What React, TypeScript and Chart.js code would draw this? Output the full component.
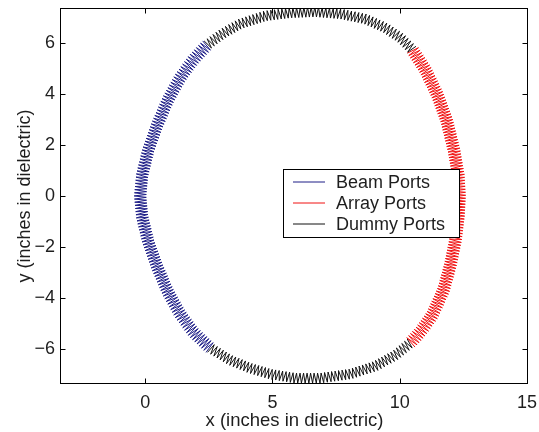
import { useEffect, useRef } from "react";
import { Chart, registerables } from "chart.js";

Chart.register(...registerables);

// Lens outline anchor points (inches in dielectric)
const beamX = [2.43, 1.88, 1.37, 0.89, 0.47, 0.12, -0.12, -0.2, -0.12, 0.12, 0.47, 0.89, 1.37, 1.9, 2.55];
const beamY = [5.92, 5.33, 4.63, 3.76, 2.78, 1.8, 0.82, 0, -0.82, -1.8, -2.78, -3.76, -4.63, -5.35, -5.96];

const arrayX = [10.42, 10.81, 11.28, 11.72, 11.99, 12.19, 12.31, 12.35, 12.3, 12.13, 11.84, 11.48, 11.01, 10.5];
const arrayY = [-5.76, -5.33, -4.67, -3.69, -2.71, -1.73, -0.75, 0, 0.82, 1.8, 2.98, 3.96, 4.94, 5.73];

// dummy ports: top arc, gap (null), bottom arc
const dummyX = [10.5, 10.03, 9.44, 8.65, 7.67, 6.68, 5.7, 4.71, 3.73, 3.02, 2.43, null, 2.55, 3.33, 4.12, 4.9, 5.89, 6.88, 8.05, 9.04, 9.83, 10.42];
const dummyY = [5.73, 6.2, 6.59, 6.94, 7.14, 7.22, 7.18, 7.06, 6.75, 6.35, 5.92, null, -5.96, -6.43, -6.75, -6.98, -7.14, -7.14, -6.98, -6.67, -6.24, -5.76];

const seriesLabels = ["Beam Ports", "Array Ports", "Dummy Ports"];
const xTicks = [0, 5, 10, 15];
const yTicks = [-6, -4, -2, 0, 2, 4, 6];

const FONT = "'Liberation Sans', Arial, Helvetica, sans-serif";
const TEXT = "#1e1e1e";

const toPoints = (xs: (number | null)[], ys: (number | null)[]) =>
  xs.map((x, i) => ({ x: x === null ? NaN : x, y: ys[i] === null ? NaN : (ys[i] as number) }));

const fmt = (v: number) => (v < 0 ? "\u2212" + Math.abs(v) : String(v));

const zigzagPlugin = {
  id: "zigzag",
  afterDatasetsDraw(chart: any) {
    const { ctx, chartArea } = chart;
    ctx.save();
    ctx.beginPath();
    ctx.rect(chartArea.left, chartArea.top, chartArea.right - chartArea.left, chartArea.bottom - chartArea.top);
    ctx.clip();
    chart.data.datasets.forEach((ds: any, di: number) => {
      const meta = chart.getDatasetMeta(di);
      const zz = ds.zigzag;
      const runs: { x: number; y: number }[][] = [];
      let cur: { x: number; y: number }[] = [];
      ds.data.forEach((raw: any, i: number) => {
        const el = meta.data[i];
        if (!isFinite(raw.x) || !isFinite(raw.y) || !el) {
          if (cur.length) runs.push(cur);
          cur = [];
        } else cur.push({ x: el.x, y: el.y });
      });
      if (cur.length) runs.push(cur);
      ctx.strokeStyle = ds.borderColor;
      ctx.lineWidth = zz.width;
      ctx.lineJoin = "miter";
      runs.forEach((run) => {
        if (run.length < 2) return;
        const n = run.length;
        const normals = run.map((_, i) => {
          const a = run[Math.max(0, i - 1)];
          const b = run[Math.min(n - 1, i + 1)];
          const dx = b.x - a.x;
          const dy = b.y - a.y;
          const L = Math.hypot(dx, dy) || 1;
          return { x: -dy / L, y: dx / L };
        });
        const segs: any[] = [];
        let total = 0;
        for (let i = 0; i < n - 1; i++) {
          const dx = run[i + 1].x - run[i].x;
          const dy = run[i + 1].y - run[i].y;
          const L = Math.hypot(dx, dy);
          segs.push({ i, dx, dy, L, start: total });
          total += L;
        }
        const half = zz.period / 2;
        const steps = Math.max(1, Math.round(total / half));
        const step = total / steps;
        ctx.beginPath();
        let si = 0;
        for (let k = 0; k <= steps; k++) {
          const s = k * step;
          while (si < segs.length - 1 && segs[si].start + segs[si].L < s) si++;
          const g = segs[si];
          const t = g.L > 0 ? Math.min(1, Math.max(0, (s - g.start) / g.L)) : 0;
          const p0 = run[g.i];
          const px = p0.x + g.dx * t;
          const py = p0.y + g.dy * t;
          const n0 = normals[g.i];
          const n1 = normals[g.i + 1];
          let nx = n0.x + (n1.x - n0.x) * t;
          let ny = n0.y + (n1.y - n0.y) * t;
          const nl = Math.hypot(nx, ny) || 1;
          nx /= nl;
          ny /= nl;
          const sign = k % 2 === 0 ? 1 : -1;
          const ox = px + nx * zz.amplitude * sign;
          const oy = py + ny * zz.amplitude * sign;
          if (k === 0) ctx.moveTo(ox, oy);
          else ctx.lineTo(ox, oy);
        }
        ctx.stroke();
      });
    });
    ctx.restore();
  },
  afterDraw(chart: any) {
    const { ctx, chartArea, scales } = chart;
    const L = chartArea.left - 0.5;
    const R = chartArea.right - 0.5;
    const T = chartArea.top + 0.5;
    const B = chartArea.bottom - 0.5;
    ctx.save();
    ctx.strokeStyle = "#000";
    ctx.lineWidth = 1;
    ctx.strokeRect(L, T, R - L, B - T);
    const tl = 5;
    ctx.beginPath();
    xTicks.forEach((v) => {
      const x = Math.round(scales.x.getPixelForValue(v)) + 0.5;
      ctx.moveTo(x, B);
      ctx.lineTo(x, B - tl);
      ctx.moveTo(x, T);
      ctx.lineTo(x, T + tl);
    });
    yTicks.forEach((v) => {
      const y = Math.round(scales.y.getPixelForValue(v)) + 0.5;
      ctx.moveTo(L, y);
      ctx.lineTo(L + tl, y);
      ctx.moveTo(R, y);
      ctx.lineTo(R - tl, y);
    });
    ctx.stroke();

    // legend
    const bx = 283.5;
    const by = 169.5;
    const bw = 176;
    const bh = 68;
    ctx.fillStyle = "#fff";
    ctx.fillRect(bx, by, bw, bh);
    ctx.strokeStyle = "#000";
    ctx.strokeRect(bx, by, bw, bh);
    ctx.font = `18px ${FONT}`;
    ctx.textBaseline = "middle";
    ctx.textAlign = "left";
    chart.data.datasets.forEach((ds: any, i: number) => {
      const y = 182 + i * 21;
      ctx.strokeStyle = ds.borderColor;
      ctx.lineWidth = 1;
      ctx.beginPath();
      ctx.moveTo(293, y);
      ctx.lineTo(325, y);
      ctx.stroke();
      ctx.fillStyle = TEXT;
      ctx.fillText(ds.label, 336, y + 1);
    });
    ctx.restore();
  },
};

export default function App() {
  const ref = useRef<HTMLCanvasElement | null>(null);
  useEffect(() => {
    if (!ref.current) return;
    const chart = new Chart(ref.current, {
      type: "scatter",
      data: {
        datasets: [
          {
            label: seriesLabels[0],
            data: toPoints(beamX, beamY),
            borderColor: "#1c1c86",
            backgroundColor: "#1c1c86",
            pointRadius: 0,
            showLine: false,
            zigzag: { period: 3.0, amplitude: 6, width: 1.0 },
          } as any,
          {
            label: seriesLabels[1],
            data: toPoints(arrayX, arrayY),
            borderColor: "#f01010",
            backgroundColor: "#f01010",
            pointRadius: 0,
            showLine: false,
            zigzag: { period: 2.9, amplitude: 6.2, width: 1.0 },
          } as any,
          {
            label: seriesLabels[2],
            data: toPoints(dummyX, dummyY),
            borderColor: "#111111",
            backgroundColor: "#111111",
            pointRadius: 0,
            showLine: false,
            zigzag: { period: 3.6, amplitude: 5, width: 1.0 },
          } as any,
        ],
      },
      options: {
        animation: false,
        responsive: false,
        layout: { padding: { top: 8, right: 11, left: 0, bottom: 0 } },
        plugins: { legend: { display: false }, tooltip: { enabled: false } },
        scales: {
          x: {
            type: "linear",
            position: "bottom",
            min: -3.31,
            max: 15.04,
            afterBuildTicks: (s: any) => {
              s.ticks = xTicks.map((v) => ({ value: v }));
            },
            afterFit: (s: any) => {
              s.height = 48;
              s.paddingLeft = 0;
              s.paddingRight = 0;
            },
            grid: { display: false, drawTicks: false },
            border: { display: false },
            ticks: {
              padding: 8,
              color: TEXT,
              font: { family: FONT, size: 18 },
              maxRotation: 0,
              callback: (v: any) => fmt(Number(v)),
            },
            title: {
              display: true,
              text: "x (inches in dielectric)",
              color: TEXT,
              font: { family: FONT, size: 18.5 },
              padding: { top: 0, bottom: 0 },
            },
          },
          y: {
            type: "linear",
            position: "left",
            min: -7.37,
            max: 7.37,
            afterBuildTicks: (s: any) => {
              s.ticks = yTicks.map((v) => ({ value: v }));
            },
            afterFit: (s: any) => {
              s.width = 61;
              s.paddingTop = 0;
              s.paddingBottom = 0;
            },
            grid: { display: false, drawTicks: false },
            border: { display: false },
            ticks: {
              padding: 6,
              color: TEXT,
              font: { family: FONT, size: 18 },
              callback: (v: any) => fmt(Number(v)),
            },
            title: {
              display: true,
              text: "y (inches in dielectric)",
              color: TEXT,
              font: { family: FONT, size: 18 },
              padding: { top: 14, bottom: 0 },
            },
          },
        },
      },
      plugins: [zigzagPlugin],
    });
    return () => chart.destroy();
  }, []);
  return (
    <div style={{ position: "absolute", left: 0, top: 0, width: 539, height: 432, background: "#fff" }}>
      <canvas ref={ref} width={539} height={432} style={{ display: "block" }} />
    </div>
  );
}
